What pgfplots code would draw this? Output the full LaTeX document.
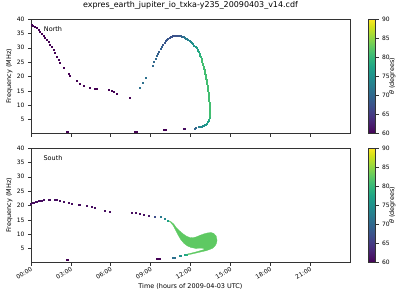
\documentclass[border=0pt]{standalone}
\usepackage{fontspec}
\setmainfont{DejaVu Sans}
\usepackage{pgfplots}
\pgfplotsset{compat=1.18}
\definecolor{blob}{HTML}{5EC962}
\definecolor{spine}{HTML}{333333}
\pgfplotsset{
  jaxis/.style={
    scale only axis, width=319bp, height=114.5bp,
    xmin=0, xmax=24, ymin=0.2, ymax=40,
    xtick={0,3,...,21}, ytick={5,10,...,40},
    tick align=outside, xtick pos=bottom, ytick pos=left,
    major tick length=3bp,
    every tick/.style={spine, line width=0.5bp},
    axis line style={spine, line width=0.5bp},
    tick label style={font=\fontsize{6}{7}\selectfont},
    /pgf/number format/assume math mode=true,
    ylabel={Frequency (MHz)},
    ylabel style={font=\fontsize{6.5}{7.5}\selectfont, at={(axis description cs:-0.068,0.5)}, anchor=center},
    colormap/viridis,
    point meta min=60, point meta max=90,
    colorbar,
    colorbar style={
      at={(parent axis.north east)}, anchor=north west, xshift=10bp,
      scale only axis, width=7bp, height=114.5bp,
      ytick={60,65,...,90}, ytick pos=right, yticklabel pos=right, tick align=outside,
      major tick length=3bp,
      every tick/.style={spine, line width=0.5bp},
      axis line style={spine, line width=0.5bp},
      tick label style={font=\fontsize{6}{7}\selectfont},
      /pgf/number format/assume math mode=true,
      ylabel={\textit{θ} (degrees)},
      ylabel style={font=\fontsize{6.5}{7.5}\selectfont, at={(axis description cs:3.4,0.5)}, anchor=center, rotate=0},
    },
  },
  jdots/.style={scatter, only marks, mark=square*, mark size=0.5bp, point meta=explicit,
    mark options={line width=0.15bp},
    scatter/use mapped color={draw=mapped color, fill=mapped color}},
}
\begin{document}
\begin{tikzpicture}
\path[use as bounding box] (-31bp,19bp) rectangle (369bp,-281bp);
% ---------------- North ----------------
\begin{axis}[jaxis, at={(0,0)}, anchor=north west, xticklabels={},
  title={expres\_earth\_jupiter\_io\_txka-y235\_20090403\_v14.cdf},
  title style={font=\fontsize{8}{9}\selectfont, at={(axis description cs:0.5,1)}, anchor=base, yshift=5.7bp}]
\addplot[jdots] table[meta=m] {
h f m
0.02 37.9 60
0.15 37.6 60
0.3 37.3 60
0.42 36.9 60
0.55 36.4 60
0.68 35.7 60
0.8 35.0 60
0.92 34.3 60
1.05 33.6 60
1.18 32.9 60
1.3 32.1 60
1.42 31.2 60
1.55 30.3 60
1.68 29.2 60
1.8 28.2 60
1.93 27.1 60
2.05 26.0 60
2.18 24.8 60
2.43 23.0 60
2.8 21.0 60
2.93 20.4 60
3.43 18.6 60
3.68 17.5 60
3.93 16.9 60
4.43 16.1 60
4.78 15.7 60
4.9 15.7 60
5.8 15.4 60
6.05 15.0 60
6.18 14.7 60
6.43 14.0 60
7.4 12.6 60
8.2 16.1 71
8.43 17.8 71
8.6 19.6 71
9.13 23.9 70
9.23 25.1 70
9.35 26.2 70
9.48 27.4 70
9.55 28.0 69
9.63 28.6 69
9.75 29.7 69
9.85 30.5 69
9.93 31.2 68
10.03 31.8 68
10.13 32.4 68
10.22 32.9 68
10.3 33.2 68
10.4 33.55 67.5
10.48 33.8 67.5
10.57 34.0 67.5
10.66 34.15 67.5
10.75 34.27 67.5
10.84 34.32 67.5
10.93 34.33 67.5
11.02 34.33 67.5
11.1 34.32 68
11.18 34.28 68
11.27 34.15 69
11.36 33.98 70
11.45 33.78 71
11.54 33.55 72
11.63 33.3 72
11.72 33.05 73
11.81 32.75 73
11.9 32.45 74
11.99 32.1 74
12.08 31.75 75
12.17 31.3 75
12.26 30.85 76
12.35 30.4 76
12.43 30.0 77
12.5 29.5 77
12.56 29.1 78
12.62 28.6 78
12.68 28.0 79
12.72 27.4 79
12.76 26.9 80
12.8 26.4 80
12.84 25.8 81
12.87 25.2 81
12.9 24.6 81
12.94 24.0 81
12.97 23.4 81
13.0 22.9 81
13.03 22.4 81
13.06 21.8 81
13.09 21.2 81
13.12 20.6 81
13.14 20.0 81
13.16 19.4 81
13.18 18.8 81
13.2 18.2 81
13.23 17.6 81
13.25 17.0 81
13.27 16.4 81
13.29 15.8 81
13.31 15.2 81
13.33 14.6 81
13.34 14.0 81
13.35 13.4 81
13.37 12.8 81
13.38 12.2 81
13.39 11.6 81
13.41 11.0 81
13.42 10.4 81
13.43 9.8 81
13.43 9.2 81
13.44 8.6 81
13.44 8.0 81
13.44 7.4 81
13.44 6.8 81
13.43 6.2 81
13.42 5.6 80
13.39 5.1 79
13.35 4.65 78
13.3 4.2 77
13.24 3.8 77
13.16 3.45 76
13.07 3.2 76
12.98 3.0 75
12.9 2.85 75
12.8 2.7 74
12.7 2.6 74
12.6 2.45 73
12.35 2.1 70
12.28 2.05 70
11.45 1.75 61
11.52 1.75 61
10.0 1.45 60
10.1 1.45 60
7.78 0.9 60
7.86 0.9 60
7.95 0.9 60
2.65 0.9 60
2.72 0.9 60
};
\node[font=\fontsize{6.5}{7.5}\selectfont] at (axis description cs:0.069,0.908) {North};
\end{axis}
% ---------------- South ----------------
\begin{axis}[jaxis, at={(0,-129bp)}, anchor=north west,
  xticklabels={00:00,03:00,06:00,09:00,12:00,15:00,18:00,21:00},
  xticklabel style={rotate=30, anchor=north east, inner sep=1bp},
  xlabel={Time (hours of 2009-04-03 UTC)},
  xlabel style={font=\fontsize{6.5}{7.5}\selectfont, at={(axis description cs:0.5,-0.212)}, anchor=center}]
\addplot[fill=blob, draw=blob, line width=0.3bp] coordinates {
(10.3,14.9) (10.55,14.3) (10.75,13.5) (10.93,12.3) (11.18,11.2) (11.43,10.2) (11.68,9.4)
(11.93,8.9) (12.2,8.8) (12.43,9.1) (12.8,9.8) (13.05,10.2) (13.3,10.5) (13.55,10.6)
(13.75,10.3) (13.93,9.4) (14.0,7.9) (13.95,6.8) (13.85,6.0) (13.68,5.2) (13.43,4.7)
(13.18,4.3) (12.8,3.9) (12.43,3.5) (12.05,3.1) (11.8,2.9) (11.8,3.2) (12.05,3.45)
(12.43,3.9) (12.8,4.4) (13.05,4.75) (13.0,5.1) (12.75,5.2) (12.4,5.1) (12.05,5.4)
(11.75,6.0) (11.5,6.9) (11.25,8.3) (11.05,9.9) (10.85,11.7) (10.7,13.0) (10.5,14.2)
} --cycle;
\addplot[jdots] table[meta=m] {
h f m
0.0 20.6 61
0.1 20.9 61
0.2 21.2 61
0.32 21.4 61
0.43 21.5 61
0.55 21.65 61
0.68 21.75 61
0.8 21.9 61
0.93 22.0 61
1.3 22.2 61
1.4 22.2 61
1.8 22.0 61
1.9 21.95 61
2.18 21.75 61
2.43 21.4 61
2.8 21.05 61
3.05 20.8 61
3.55 20.4 61
3.65 20.3 61
4.18 19.9 61
4.55 19.7 61
4.8 19.2 61
5.55 18.3 61
5.93 17.9 61
7.55 17.6 61
7.9 17.4 61
8.2 17.1 61
8.45 17.0 61
8.85 16.65 62
9.3 16.3 67
9.73 16.0 72
10.05 15.4 74
10.3 14.9 77
2.65 1.3 60
2.72 1.3 60
9.45 1.5 60
9.55 1.5 60
9.65 1.5 60
10.68 2.0 71
10.78 2.05 71
11.18 2.5 75
11.28 2.6 75
11.55 2.9 78
11.68 3.0 79
};
\node[font=\fontsize{6.5}{7.5}\selectfont] at (axis description cs:0.069,0.908) {South};
\end{axis}
\end{tikzpicture}
\end{document}
